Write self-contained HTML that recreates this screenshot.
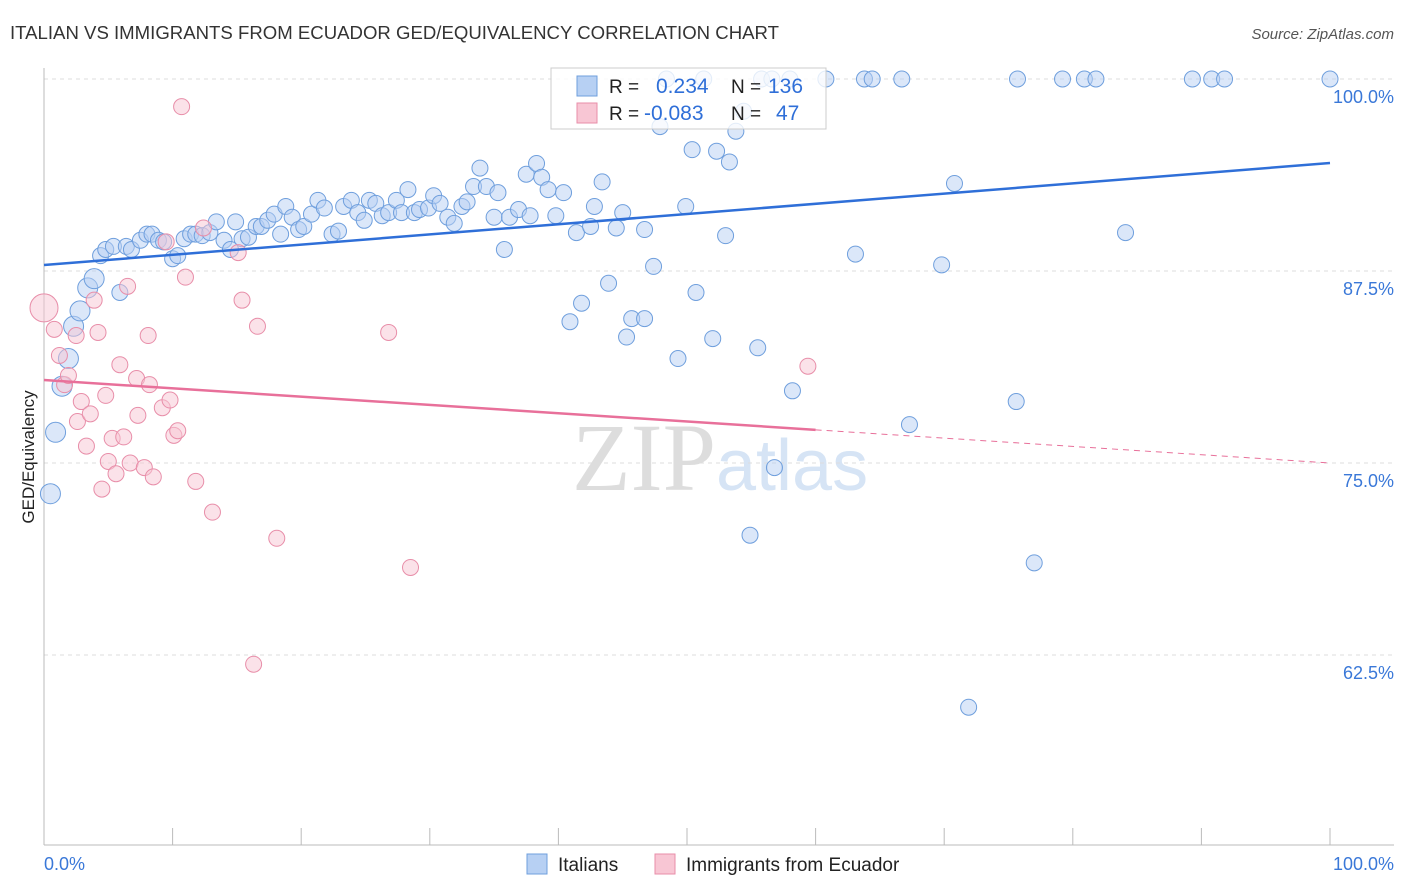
<!DOCTYPE html>
<html><head><meta charset="utf-8"><style>
body{margin:0;background:#fff;font-family:"Liberation Sans",sans-serif;}
svg{display:block}
</style></head><body>
<svg id="chart" width="1406" height="892" xmlns="http://www.w3.org/2000/svg">
<text x="10" y="39" font-size="18.6" fill="#333">ITALIAN VS IMMIGRANTS FROM ECUADOR GED/EQUIVALENCY CORRELATION CHART</text>
<text x="1394" y="39" font-size="15" fill="#555" font-style="italic" text-anchor="end">Source: ZipAtlas.com</text>
<text x="34" y="457" font-size="17" fill="#222" text-anchor="middle" transform="rotate(-90 34 457)">GED/Equivalency</text>
<text x="716" y="490" font-size="96" fill="#ddd" font-family="Liberation Serif,serif" text-anchor="end">ZIP</text>
<text x="716" y="490" font-size="72" fill="#d6e4f5" text-anchor="start">atlas</text>
<g id="grid"></g><g id="pts"></g><g id="lines"></g>
<g>
<rect x="551" y="68" width="275" height="61" fill="#fff" fill-opacity="0.8" stroke="#ccc"/>
<rect x="577" y="76" width="20" height="20" fill="#b7d0f3" stroke="#6f9fdd"/>
<rect x="577" y="103" width="20" height="20" fill="#f8c6d4" stroke="#e88ea9"/>
<text x="609" y="93" font-size="19" fill="#222">R = </text><text x="656" y="93" font-size="21" fill="#2f6fd8">0.234</text>
<text x="731" y="93" font-size="19" fill="#222">N = </text><text x="768" y="93" font-size="21" fill="#2f6fd8">136</text>
<text x="609" y="120" font-size="19" fill="#222">R = </text><text x="644" y="120" font-size="21" fill="#2f6fd8">-0.083</text>
<text x="731" y="120" font-size="19" fill="#222">N = </text><text x="776" y="120" font-size="21" fill="#2f6fd8">47</text>
</g>
<g>
<rect x="527" y="854" width="20" height="20" fill="#b7d0f3" stroke="#6f9fdd"/>
<text x="558" y="871" font-size="19" fill="#222">Italians</text>
<rect x="655" y="854" width="20" height="20" fill="#f8c6d4" stroke="#e88ea9"/>
<text x="686" y="871" font-size="19" fill="#222">Immigrants from Ecuador</text>
</g>
</svg>
<script>
const yTicks=[100,87.5,75,62.5];
const yTickLabels=["100.0%","87.5%","75.0%","62.5%"];
const xTicks=[0,10,20,30,40,50,60,70,80,90,100];
const blueX=[0.5,0.9,1.4,1.9,2.3,2.8,3.4,3.9,4.4,4.8,5.4,5.9,6.4,6.8,7.5,8.0,8.4,8.9,9.3,10.0,10.4,10.9,11.4,11.8,12.3,12.9,13.4,14.0,14.5,14.9,15.4,15.9,16.5,16.9,17.4,17.9,18.4,18.8,19.3,19.8,20.2,20.8,21.3,21.8,22.4,22.9,23.3,23.9,24.4,24.9,25.3,25.8,26.3,26.8,27.4,27.8,28.3,28.8,29.2,29.9,30.3,30.8,31.4,31.9,32.5,32.9,33.4,33.9,34.4,35.0,35.3,35.8,36.2,36.9,37.5,37.8,38.3,38.7,39.2,39.8,40.4,40.9,41.4,41.8,42.5,42.8,43.4,43.9,44.5,45.0,45.3,45.7,46.7,46.7,47.4,47.9,49.3,49.9,50.4,50.7,52.0,52.3,53.0,53.3,53.8,54.4,54.9,55.5,56.8,58.2,63.1,67.3,69.8,70.8,71.9,75.6,77.0,84.1,48.4,51.3,55.8,56.6,58.0,60.8,63.8,64.4,66.7,75.7,79.2,80.9,81.8,89.3,90.8,91.8,100];
const blueY=[73.0,77.0,80.0,81.8,83.9,84.9,86.4,87.0,88.5,88.9,89.1,86.1,89.1,88.9,89.5,89.9,89.9,89.5,89.4,88.3,88.5,89.6,89.9,89.9,89.8,90.0,90.7,89.5,88.9,90.7,89.6,89.7,90.4,90.4,90.8,91.2,89.9,91.7,91.0,90.2,90.4,91.2,92.1,91.6,89.9,90.1,91.7,92.1,91.3,90.8,92.1,91.9,91.1,91.3,92.1,91.3,92.8,91.3,91.5,91.6,92.4,91.9,91.0,90.6,91.7,92.0,93.0,94.2,93.0,91.0,92.6,88.9,91.0,91.5,93.8,91.1,94.5,93.6,92.8,91.1,92.6,84.2,90.0,85.4,90.4,91.7,93.3,86.7,90.3,91.3,83.2,84.4,84.4,90.2,87.8,96.9,81.8,91.7,95.4,86.1,83.1,95.3,89.8,94.6,96.6,97.9,70.3,82.5,74.7,79.7,88.6,77.5,87.9,93.2,59.1,79.0,68.5,90.0,100,100,100,100,100,100,100,100,100,100,100,100,100,100,100,100,100];
const pinkX=[0,0.8,1.2,1.6,1.9,2.5,2.6,2.9,3.3,3.6,3.9,4.2,4.5,4.8,5.0,5.3,5.6,5.9,6.2,6.5,6.7,7.2,7.3,7.8,8.1,8.2,8.5,9.2,9.5,9.8,10.1,10.4,10.7,11.0,11.8,12.4,13.1,15.1,15.4,16.6,16.3,18.1,26.8,28.5,59.4];
const pinkY=[85.1,83.7,82.0,80.1,80.7,83.3,77.7,79.0,76.1,78.2,85.6,83.5,73.3,79.4,75.1,76.6,74.3,81.4,76.7,86.5,75.0,80.5,78.1,74.7,83.3,80.1,74.1,78.6,89.4,79.1,76.8,77.1,98.2,87.1,73.8,90.3,71.8,88.7,85.6,83.9,61.9,70.1,83.5,68.2,81.3];
const blueTrend=[87.89,94.53];
const pinkTrend=[80.4,75.0];
const pinkSolidEnd=60;
const X=v=>44+v*12.86, Y=v=>79+(100-v)*15.36;
const NS="http://www.w3.org/2000/svg";
function mk(tag,attrs,parent){const e=document.createElementNS(NS,tag);for(const k in attrs)e.setAttribute(k,attrs[k]);parent.appendChild(e);return e;}
const grid=document.getElementById('grid');
yTicks.forEach((t,i)=>{
 const l=mk('line',{x1:44,x2:1394,y1:Y(t),y2:Y(t),stroke:'#ddd','stroke-dasharray':'4,4'},grid);
 
 
 const tx=mk('text',{x:1394,y:Y(t)+24,'font-size':18,fill:'#3a78d8','text-anchor':'end'},grid);
 tx.textContent=yTickLabels[i];
 
 
});
const ax=mk('line',{x1:44,x2:44,y1:68,y2:845,stroke:'#bbb'},grid);


const bx=mk('line',{x1:44,x2:1394,y1:845,y2:845,stroke:'#bbb'},grid);


xTicks.forEach(t=>{
 const l=mk('line',{x1:X(t),x2:X(t),y1:828,y2:845,stroke:'#bbb'},grid);
 
 
});
const x0=mk('text',{x:44,y:870,'font-size':18,fill:'#3a78d8'},grid);x0.textContent='0.0%';


const x1=mk('text',{x:1394,y:870,'font-size':18,fill:'#3a78d8','text-anchor':'end'},grid);x1.textContent='100.0%';


const pts=document.getElementById('pts');
blueX.forEach((x,i)=>{
 const c=mk('circle',{cx:X(x),cy:Y(blueY[i]),r:x<4?10:8,fill:'#b7d0f3','fill-opacity':0.5,stroke:'#6f9fdd','stroke-width':1},pts);
 
 
});
pinkX.forEach((x,i)=>{
 const c=mk('circle',{cx:X(x),cy:Y(pinkY[i]),r:i==0?14:8,fill:'#f8c6d4','fill-opacity':0.5,stroke:'#e88ea9','stroke-width':1},pts);
 
 
});
const lines=document.getElementById('lines');
const bl=mk('line',{x1:X(0),y1:Y(blueTrend[0]),x2:X(100),y2:Y(blueTrend[1]),stroke:'#2f6fd8','stroke-width':2.5},lines);


const pv=x=>pinkTrend[0]+(pinkTrend[1]-pinkTrend[0])*x/100;
const pl=mk('line',{x1:X(0),y1:Y(pv(0)),x2:X(pinkSolidEnd),y2:Y(pv(pinkSolidEnd)),stroke:'#e8709a','stroke-width':2.5},lines);


const pd=mk('line',{x1:X(pinkSolidEnd),y1:Y(pv(pinkSolidEnd)),x2:X(100),y2:Y(pv(100)),stroke:'#e8709a','stroke-width':1,'stroke-dasharray':'6,5'},lines);


</script>
</body></html>
